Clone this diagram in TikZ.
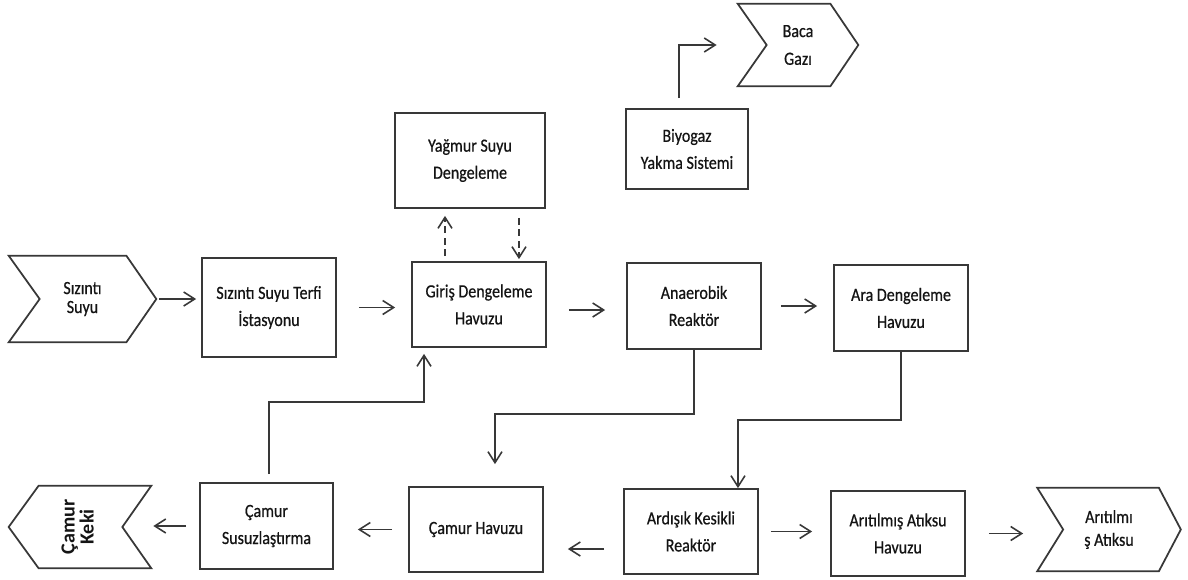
\documentclass[tikz,border=0pt]{standalone}
\usepackage{fontspec}
\setmainfont{Carlito}[FakeStretch=0.86,FakeBold=0.6]
\newfontfamily\kekifont{Carlito}
\usetikzlibrary{arrows.meta,calc}

\begin{document}
\begin{tikzpicture}[x=0.02cm,y=-0.02cm,
  ink/.style={draw=black!78, line width=1pt},
  txt/.style={inner sep=0pt, align=center, text=black!92,
              font=\fontsize{10.6}{15.4}\selectfont},
  box/.style={txt, ink, rectangle, minimum width=2.68cm, minimum height=1.70cm},
  chev/.style={txt, rectangle},
  arr/.style={ink, line width=0.9pt, -{Straight Barb[length=0.22cm,width=0.28cm]}},
  dsh/.style={arr, dash pattern=on 0.14cm off 0.09cm},
]
\useasboundingbox (0,0) rectangle (1188,579);

% process units
\node[box, minimum height=1.98cm] (terfi) at (269,307.5) {Sızıntı Suyu Terfi\\İstasyonu};
\node[box] (giris) at (479,304.5) {Giriş Dengeleme\\Havuzu};
\node[box, minimum width=3.0cm, minimum height=1.90cm] (yagmur) at (470,160.5) {Yağmur Suyu\\Dengeleme};
\node[box, minimum width=2.44cm, minimum height=1.60cm] (biyogaz) at (687,149) {Biyogaz\\Yakma Sistemi};
\node[box, minimum height=1.72cm] (anaerobik) at (694,306) {Anaerobik\\Reaktör};
\node[box, minimum height=1.72cm] (ara) at (901,308) {Ara Dengeleme\\Havuzu};
\node[box, minimum width=2.66cm, minimum height=1.72cm] (susuz) at (266.5,526) {Çamur\\Susuzlaştırma};
\node[box] (chavuz) at (476,529.5) {Çamur Havuzu};
\node[box] (ardisik) at (691,531.5) {Ardışık Kesikli\\Reaktör};
\node[box] (aritilmis) at (898,533.5) {Arıtılmış Atıksu\\Havuzu};

% inputs and outputs (chevrons)
\node[chev, minimum width=2.94cm, minimum height=1.72cm,
      font=\fontsize{10.6}{10.8}\selectfont] (sizinti) at (82.5,299) {Sızıntı\\Suyu};
\draw[ink] (sizinti.north west) -- ($(sizinti.north east)+(-30,0)$) -- (sizinti.east)
  -- ($(sizinti.south east)+(-30,0)$) -- (sizinti.south west) -- ($(sizinti.west)+(31,0)$) -- cycle;

\node[chev, minimum width=2.40cm, minimum height=1.64cm,
      font=\fontsize{10.6}{15.8}\selectfont] (baca) at (798,45) {Baca\\Gazı};
\draw[ink] (baca.north west) -- ($(baca.north east)+(-28,0)$) -- (baca.east)
  -- ($(baca.south east)+(-28,0)$) -- (baca.south west) -- ($(baca.west)+(29,0)$) -- cycle;

\node[chev, minimum width=2.84cm, minimum height=1.64cm] (keki) at (80,527)
  {\rotatebox{90}{\kekifont\bfseries\fontsize{11.4}{9.4}\selectfont
   \begin{tabular}{@{}c@{}}Çamur\\Keki\end{tabular}}};
\draw[ink] ($(keki.north west)+(30,0)$) -- (keki.north east) -- ($(keki.east)+(-29,0)$)
  -- (keki.south east) -- ($(keki.south west)+(30,0)$) -- (keki.west) -- cycle;

\node[chev, minimum width=2.86cm, minimum height=1.66cm,
      font=\fontsize{10.6}{13}\selectfont] (atiksu) at (1109,529.5) {Arıtılmı\\ş Atıksu};
\draw[ink] (atiksu.north west) -- ($(atiksu.north east)+(-22,0)$) -- (atiksu.east)
  -- ($(atiksu.south east)+(-22,0)$) -- (atiksu.south west) -- ($(atiksu.west)+(26,0)$) -- cycle;

% main line
\draw[arr, shorten <=0.06cm, shorten >=0.10cm] (sizinti.east) -- (sizinti.east -| terfi.west);
\draw[arr, shorten <=0.44cm, shorten >=0.32cm] (terfi.east) -- (terfi.east -| giris.west);
\draw[arr, shorten <=0.44cm, shorten >=0.42cm] ([yshift=-0.11cm]giris.east) -- ([yshift=-0.11cm]giris.east -| anaerobik.west);
\draw[arr, shorten <=0.38cm, shorten >=0.32cm] (anaerobik.east) -- (anaerobik.east -| ara.west);

% storm water balancing (dashed)
\draw[dsh, shorten <=0.10cm, shorten >=0.14cm] ([xshift=-0.68cm]giris.north) -- ([xshift=-0.68cm]giris.north |- yagmur.south);
\draw[dsh, shorten <=0.18cm, shorten >=0.04cm] ([xshift=0.80cm]giris.north |- yagmur.south) -- ([xshift=0.80cm]giris.north);

% biogas to flue gas
\draw[arr, shorten <=0.20cm, shorten >=0.42cm] ([xshift=-0.16cm]biyogaz.north) |- (baca.west);

% sludge and effluent lines
\draw[arr, shorten >=0.44cm] (anaerobik.south) -- ++(0,64) -| ([xshift=0.38cm]chavuz.north);
\draw[arr] (ara.south) -- ++(0,68) -| ([xshift=0.94cm]ardisik.north);
\draw[arr, shorten <=0.38cm, shorten >=0.48cm] ([yshift=-0.35cm]ardisik.west) -- ([yshift=-0.35cm]ardisik.west -| chavuz.east);
\draw[arr, shorten <=0.32cm, shorten >=0.48cm] (chavuz.west) -- (chavuz.west -| susuz.east);
\draw[arr, shorten <=0.26cm, shorten >=0.04cm] (susuz.west) -- (susuz.west -| keki.east);
\draw[arr, shorten <=0.16cm, shorten >=0.12cm] ([xshift=0.05cm]susuz.north) -- ++(0,-80) -| ([xshift=-1.10cm]giris.south);
\draw[arr, shorten <=0.24cm, shorten >=0.36cm] (ardisik.east) -- (ardisik.east -| aritilmis.west);
\draw[arr, shorten <=0.46cm, shorten >=0.28cm] (aritilmis.east) -- (aritilmis.east -| atiksu.west);
\end{tikzpicture}
\end{document}
